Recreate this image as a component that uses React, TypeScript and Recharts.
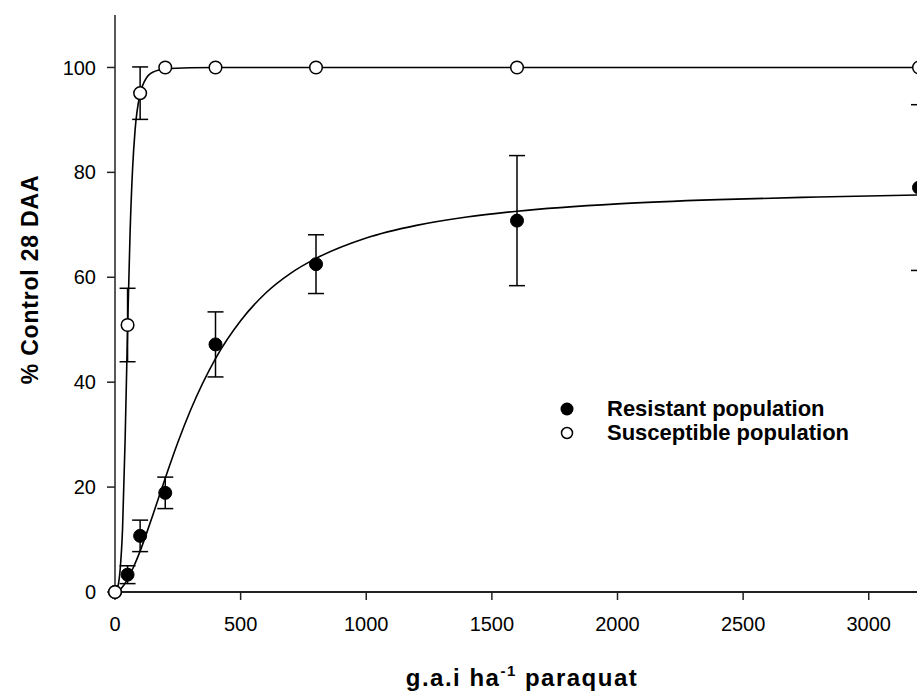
import React from 'react';
import { ComposedChart, Line, Scatter, XAxis, YAxis, ErrorBar } from 'recharts';

const doseLevels = [0, 50, 100, 200, 400, 800, 1600, 3200];
const resistantMean = [0, 3.3, 10.7, 18.9, 47.2, 62.5, 70.8, 77.1];
const resistantErr = [0, 1.7, 3.0, 3.0, 6.2, 5.6, 12.4, 15.8];
const susceptibleMean = [0, 50.9, 95.1, 100, 100, 100, 100, 100];
const susceptibleErr = [0, 7.0, 5.0, 0, 0, 0, 0, 0];

const resistantCurveX = [0, 25, 50, 75, 100, 150, 200, 250, 300, 400, 500, 600, 700, 800, 1000, 1200, 1400, 1600, 2000, 2400, 2800, 3200];
const resistantCurveY = [0, 0.7, 2.4, 4.9, 7.8, 14.6, 21.7, 28.5, 34.6, 44.5, 51.7, 57.0, 60.8, 63.6, 67.5, 69.9, 71.5, 72.6, 74.0, 74.8, 75.3, 75.7];
const susceptibleCurveX = [0, 10, 20, 30, 40, 50, 60, 70, 80, 100, 120, 150, 200, 300, 400, 800, 1600, 3200];
const susceptibleCurveY = [0, 0.8, 4.0, 12.0, 28.5, 50, 68.5, 80.7, 88.1, 95.0, 97.6, 99.1, 99.7, 99.95, 100, 100, 100, 100];

const xTicks = [0, 500, 1000, 1500, 2000, 2500, 3000];
const yTicks = [0, 20, 40, 60, 80, 100];
const seriesNames = ['Resistant population', 'Susceptible population'];

const resistantPts = doseLevels.map((x, i) => ({ x, y: resistantMean[i], err: resistantErr[i] }));
const susceptiblePts = doseLevels.map((x, i) => ({ x, y: susceptibleMean[i], err: susceptibleErr[i] }));
const resistantCurve = resistantCurveX.map((x, i) => ({ x, y: resistantCurveY[i] }));
const susceptibleCurve = susceptibleCurveX.map((x, i) => ({ x, y: susceptibleCurveY[i] }));

const FONT = '"Liberation Sans", Arial, sans-serif';

const FilledDot = (p: any) => (
  <circle cx={p.cx} cy={p.cy} r={6.5} fill="#000" stroke="#000" strokeWidth={1} />
);
const OpenDot = (p: any) => (
  <circle cx={p.cx} cy={p.cy} r={6.3} fill="#fff" stroke="#000" strokeWidth={1.5} />
);

const XTitle = (props: any) => {
  const vb = props.viewBox || {};
  const cx = vb.x + vb.width / 2 + 5;
  return (
    <text x={cx} y={686} textAnchor="middle" fontFamily={FONT} fontWeight="bold" fontSize={24} letterSpacing={1.5} fill="#000">
      g.a.i ha<tspan dy={-10} fontSize={15}>-1</tspan>
      <tspan dy={10}> paraquat</tspan>
    </text>
  );
};

const YTitle = (props: any) => {
  const vb = props.viewBox || {};
  const cy = vb.y + vb.height / 2 - 24;
  return (
    <text x={38} y={cy} transform={`rotate(-90 38 ${cy})`} textAnchor="middle" fontFamily={FONT} fontWeight="bold" fontSize={23} letterSpacing={0.8} fill="#000">
      % Control 28 DAA
    </text>
  );
};

export default function App() {
  return (
    <div style={{ position: 'absolute', left: 0, top: 0, width: 917, height: 693, overflow: 'hidden', background: '#fff' }}>
      <ComposedChart width={929} height={693} margin={{ top: 15, right: 10, bottom: 41, left: 55 }}>
        <XAxis
          dataKey="x"
          type="number"
          domain={[0, 3200]}
          ticks={xTicks}
          interval={0}
          height={60}
          tickSize={8}
          tickMargin={17}
          tick={{ fill: '#000', fontSize: 20, fontFamily: FONT }}
          axisLine={{ stroke: '#222', strokeWidth: 2 }}
          tickLine={{ stroke: '#222', strokeWidth: 1.5 }}
          label={XTitle}
        />
        <YAxis
          dataKey="y"
          type="number"
          domain={[0, 110]}
          ticks={yTicks}
          interval={0}
          width={60}
          tickSize={8}
          tickMargin={11}
          tick={{ fill: '#000', fontSize: 20, fontFamily: FONT }}
          axisLine={{ stroke: '#222', strokeWidth: 1.5 }}
          tickLine={{ stroke: '#222', strokeWidth: 1.5 }}
          label={YTitle}
        />
        <Line data={resistantCurve} dataKey="y" type="monotone" stroke="#000" strokeWidth={1.6} dot={false} activeDot={false} isAnimationActive={false} legendType="none" />
        <Line data={susceptibleCurve} dataKey="y" type="monotone" stroke="#000" strokeWidth={1.6} dot={false} activeDot={false} isAnimationActive={false} legendType="none" />
        <Scatter data={resistantPts} dataKey="y" name={seriesNames[0]} shape={FilledDot} isAnimationActive={false}>
          <ErrorBar dataKey="err" direction="y" width={8} stroke="#000" strokeWidth={1.5} isAnimationActive={false} />
        </Scatter>
        <Scatter data={susceptiblePts} dataKey="y" name={seriesNames[1]} shape={OpenDot} isAnimationActive={false}>
          <ErrorBar dataKey="err" direction="y" width={8} stroke="#000" strokeWidth={1.5} isAnimationActive={false} />
        </Scatter>
      </ComposedChart>
      <div style={{ position: 'absolute', left: 558, top: 397, fontFamily: FONT, fontWeight: 'bold', fontSize: 22, color: '#000', lineHeight: '24px' }}>
        <div style={{ display: 'flex', alignItems: 'center' }}>
          <svg width={18} height={18} style={{ marginRight: 31 }}><circle cx={9} cy={9} r={6.5} fill="#000" /></svg>
          <span>{seriesNames[0]}</span>
        </div>
        <div style={{ display: 'flex', alignItems: 'center' }}>
          <svg width={18} height={18} style={{ marginRight: 31 }}><circle cx={9} cy={9} r={5.5} fill="#fff" stroke="#000" strokeWidth={1.5} /></svg>
          <span>{seriesNames[1]}</span>
        </div>
      </div>
    </div>
  );
}
